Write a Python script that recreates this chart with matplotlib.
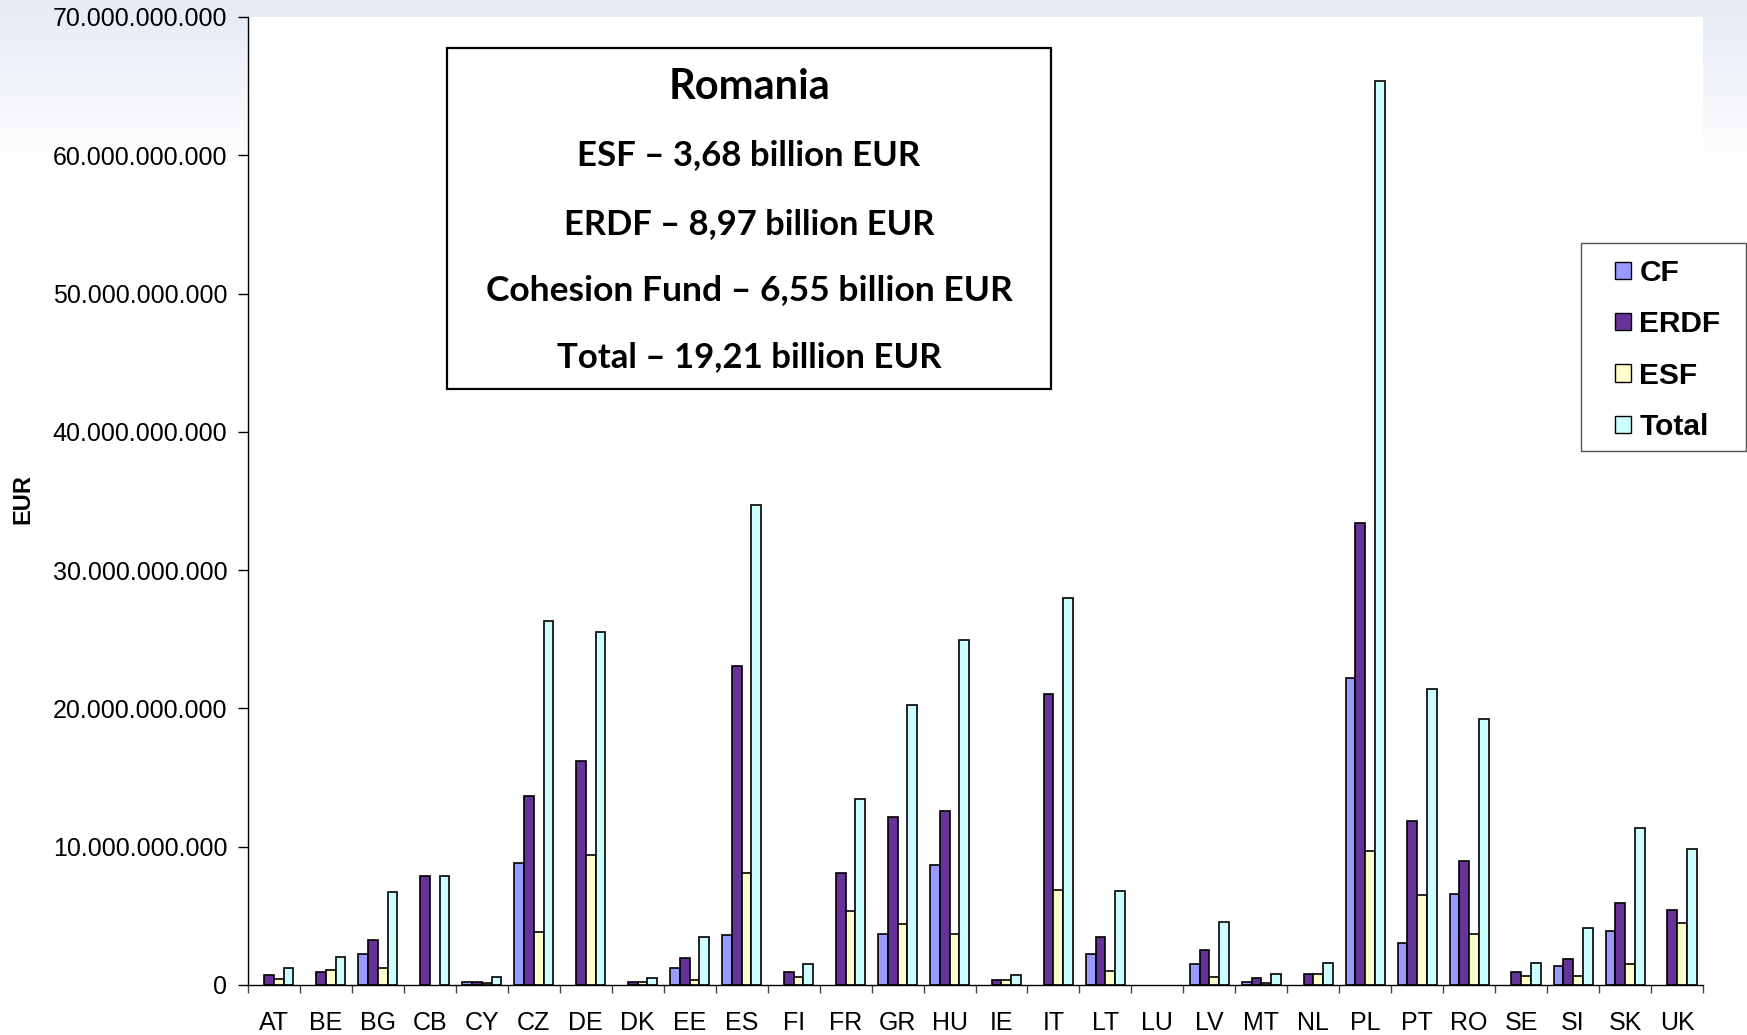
import matplotlib
matplotlib.use('Agg')
import matplotlib.pyplot as plt
import numpy as np

from matplotlib.patches import Rectangle, Patch
from matplotlib.ticker import FuncFormatter, MultipleLocator


COUNTRIES = [ 'AT', 'BE', 'BG', 'CB', 'CY', 'CZ', 'DE', 'DK', 'EE', 'ES',
              'FI', 'FR', 'GR', 'HU', 'IE', 'IT', 'LT', 'LU', 'LV', 'MT',
              'NL', 'PL', 'PT', 'RO', 'SE', 'SI', 'SK', 'UK' ]

# billion EUR (LU too small to show)
CF    = [ 0, 0, 2.27, 0, 0.22, 8.8, 0, 0, 1.2, 3.58,
          0, 0, 3.68, 8.7, 0, 0, 2.24, 0, 1.54, 0.24,
          0, 22.2, 3.05, 6.55, 0, 1.4, 3.88, 0 ]
ERDF  = [ 0.70, 0.94, 3.23, 7.86, 0.22, 13.7, 16.2, 0.22, 1.93, 23.1,
          0.95, 8.1, 12.15, 12.6, 0.33, 21.06, 3.45, 0, 2.5, 0.48,
          0.78, 33.4, 11.86, 8.97, 0.92, 1.89, 5.9, 5.42 ]
ESF   = [ 0.46, 1.08, 1.2, 0, 0.12, 3.8, 9.4, 0.2, 0.34, 8.1,
          0.59, 5.35, 4.4, 3.68, 0.33, 6.89, 1.04, 0, 0.6, 0.12,
          0.78, 9.7, 6.52, 3.68, 0.65, 0.65, 1.5, 4.47 ]
TOTAL = [ 1.2, 2.02, 6.69, 7.86, 0.6, 26.3, 25.5, 0.48, 3.45, 34.7,
          1.53, 13.45, 20.23, 24.96, 0.72, 27.95, 6.77, 0, 4.53, 0.82,
          1.62, 65.4, 21.4, 19.21, 1.62, 4.12, 11.37, 9.84 ]

SERIES = [ 'CF', 'ERDF', 'ESF', 'Total' ]
COLORS = [ '#9999FF', '#663399', '#FFFFCC', '#CCFFFF' ]

BOX_LINES = [ 'Romania',
              'ESF \u2013 3,68 billion EUR',
              'ERDF \u2013 8,97 billion EUR',
              'Cohesion Fund \u2013 6,55 billion EUR',
              'Total \u2013 19,21 billion EUR' ]


W, H = 1747.0, 1035.0

fig = plt.figure( figsize=(W/100, H/100), dpi=100 )
fig.patch.set_facecolor( 'white' )

# slide background: pale blue at the top fading to white
bg = fig.add_axes( [0, 0, 1, 1], zorder=-10 )
t = np.clip( np.linspace( 0, 1, 400 ) / 0.16, 0, 1 )[:, None]
top = np.array( [0.898, 0.918, 0.957] )
grad = top[None, None, :] * (1 - t[:, :, None]) + t[:, :, None]
bg.imshow( grad, aspect='auto', extent=[0, 1, 0, 1] )
bg.set_axis_off()

ax = fig.add_axes( [248/W, 1 - 985/H, (1703 - 248)/W, (985 - 17)/H], zorder=1 )
ax.set_facecolor( 'white' )

x = np.arange( len(COUNTRIES) )
bw = 0.1875
for k, vals in enumerate( [CF, ERDF, ESF, TOTAL] ):
  vals = np.array( vals )
  keep = vals > 0   # empty cells are not drawn at all
  ax.bar( x[keep] + (k - 1.5)*bw, vals[keep]*1e9, width=bw, color=COLORS[k],
          edgecolor='black', linewidth=1.2, label=SERIES[k] )

ax.set_xlim( -0.5, len(COUNTRIES) - 0.5 )
ax.set_ylim( 0, 70e9 )

for s in [ 'top', 'right' ]:
  ax.spines[s].set_visible( False )
for s in [ 'left', 'bottom' ]:
  ax.spines[s].set_linewidth( 1.0 )

ax.set_xticks( x )
ax.set_xticklabels( COUNTRIES, fontsize=18, family='Liberation Sans' )
ax.set_xticks( np.arange( -0.5, len(COUNTRIES), 1.0 ), minor=True )
ax.tick_params( axis='x', which='major', length=0, pad=19 )
ax.tick_params( axis='x', which='minor', length=6, width=1.0, color='#444444', direction='out' )

ax.yaxis.set_major_locator( MultipleLocator( 10e9 ) )
ax.yaxis.set_major_formatter( FuncFormatter( lambda v, p: '{:,.0f}'.format(v).replace(',', '.') ) )
ax.tick_params( axis='y', length=7, width=1.0, pad=8, labelsize=18 )
for lab in ax.get_yticklabels():
  lab.set_family( 'Liberation Sans' )

fig.text( 23/W, 1 - 499/H, 'EUR', rotation=90, ha='center', va='center',
          fontsize=17, fontweight='bold', family='Liberation Sans' )

# legend at the right edge: own frame, entries inset from it
frame = Rectangle( (1581/W, 1 - 451/H), (1746 - 1581)/W, (451 - 243)/H,
                   transform=fig.transFigure, facecolor='white', edgecolor='#555555',
                   linewidth=1.0, zorder=5 )
fig.add_artist( frame )
handles = [ Patch( facecolor=c, edgecolor='black', linewidth=1.0 ) for c in COLORS ]
leg = fig.legend( handles, SERIES, loc='center left',
                  bbox_to_anchor=(1615/W, 1 - 350/H),
                  prop={ 'family': 'Liberation Sans', 'weight': 'bold', 'size': 21.5 },
                  frameon=False,
                  handlelength=0.52, handleheight=0.52, handletextpad=0.3,
                  labelspacing=0.78, borderpad=0, borderaxespad=0 )
leg.set_zorder( 6 )

# Romania info box
box = Rectangle( (447/W, 1 - 389/H), (1051 - 447)/W, (389 - 48)/H,
                 transform=fig.transFigure, facecolor='white', edgecolor='black',
                 linewidth=1.6, zorder=5 )
fig.add_artist( box )

ys = [ 87, 155, 224, 290, 357 ]
sizes = [ 30, 25, 24.8, 25.5, 25 ]
for line, yy, fs in zip( BOX_LINES, ys, sizes ):
  fig.text( 749/W, 1 - yy/H, line, ha='center', va='center', fontsize=fs,
            fontweight='bold', family=['Lato', 'DejaVu Sans'], zorder=6 )

fig.savefig( 'out.png', dpi=100 )
